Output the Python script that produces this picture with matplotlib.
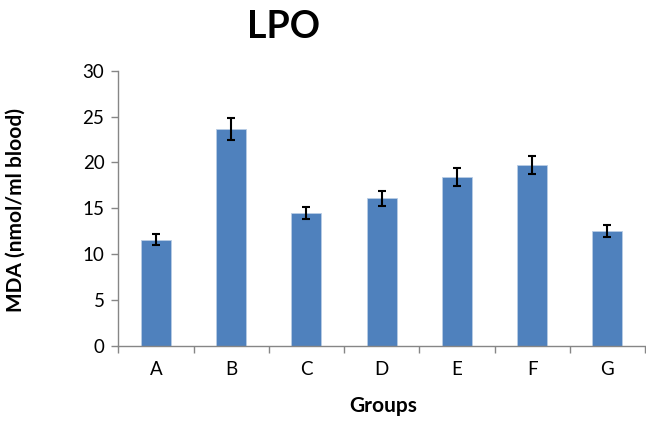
import matplotlib.pyplot as plt
import numpy as np

groups = ['A', 'B', 'C', 'D', 'E', 'F', 'G']
mda = [11.6, 23.6, 14.5, 16.1, 18.4, 19.7, 12.5]
sem = [0.6, 1.2, 0.7, 0.8, 0.95, 1.0, 0.65]
y_ticks = [0, 5, 10, 15, 20, 25, 30]

plt.rcParams['font.family'] = ['Lato', 'DejaVu Sans']

fig = plt.figure(figsize=(6.46, 4.21), dpi=100)
ax = fig.add_axes([118.3 / 646, 1 - 346 / 421, (645 - 118.3) / 646, (346 - 70.7) / 421])

x = np.arange(len(groups))
ax.bar(x, mda, width=0.4, color='#4F81BD', edgecolor='#B9CDE5', linewidth=0.6, zorder=2)
ax.errorbar(x, mda, yerr=sem, fmt='none', ecolor='black', elinewidth=1.5,
            capsize=3, capthick=1.5, zorder=3)

ax.set_xlim(-0.5, len(groups) - 0.5)
ax.set_ylim(0, 30)
ax.set_yticks(y_ticks)
ax.set_yticklabels([str(t) for t in y_ticks], fontsize=13.5)

# category labels centred, tick marks between categories (Excel style)
ax.set_xticks(x)
ax.set_xticklabels(groups, fontsize=13.5)
ax.tick_params(axis='x', which='major', length=0, pad=11)
ax.set_xticks(np.arange(-0.5, len(groups)), minor=True)
ax.tick_params(axis='x', which='minor', length=5, color='#868686', width=1, direction='out')
ax.tick_params(axis='y', length=5, color='#868686', width=1, direction='out', pad=5)

for s in ['top', 'right']:
    ax.spines[s].set_visible(False)
for s in ['left', 'bottom']:
    ax.spines[s].set_color('#868686')
    ax.spines[s].set_linewidth(1)

fig.text(283 / 646, 1 - 27 / 421, 'LPO', fontsize=27, fontweight='bold', ha='center', va='center')
fig.text(383 / 646, 1 - 406 / 421, 'Groups', fontsize=15, fontweight='bold', ha='center', va='center')
fig.text(16 / 646, 1 - 210 / 421, 'MDA (nmol/ml blood)', fontsize=15, fontweight='bold',
         ha='center', va='center', rotation=90)

fig.savefig('out.png', dpi=100)
